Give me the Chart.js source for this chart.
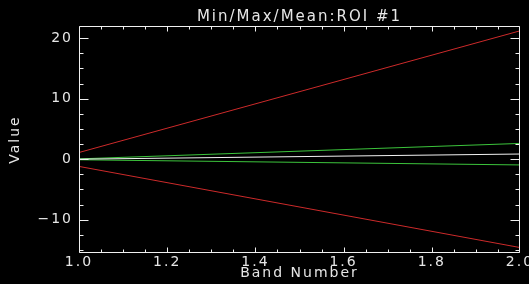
<!DOCTYPE html>
<html>
<head>
<meta charset="utf-8">
<script src="https://cdn.jsdelivr.net/npm/chart.js@4/dist/chart.umd.min.js"></script>
<style>
  html, body { margin: 0; padding: 0; background: #000; overflow: hidden; }
  #wrap { width: 529px; height: 284px; position: relative; }
  canvas { display: block; }
</style>
</head>
<body>
<div id="wrap"><canvas id="c" width="529" height="284"></canvas></div>
<script>
// ---- data ----
const bands        = [1.0, 2.0];
const maxValues    = [1.1, 21.2];
const minValues    = [-1.2, -14.6];
const meanValues   = [0.0, 0.85];
const meanPlusSd   = [0.05, 2.6];
const meanMinusSd  = [-0.1, -0.95];
const xTickValues  = [1.0, 1.2, 1.4, 1.6, 1.8, 2.0];
const yTickValues  = [-10, 0, 10, 20];
const xRange       = [1.0, 2.0];
const yRange       = [-15.5, 22];
const titleText    = 'Min/Max/Mean:ROI #1';
const xTitleText   = 'Band Number';
const yTitleText   = 'Value';

const TEXT = '#e6e6e6';
const FONT = 'DejaVu Sans';
Chart.defaults.font.family = FONT;

function pts(ys) { return bands.map((b, i) => ({ x: b, y: ys[i] })); }

const bgPlugin = {
  id: 'bg',
  beforeDraw(chart) {
    const ctx = chart.ctx;
    ctx.save();
    ctx.fillStyle = '#000';
    ctx.fillRect(0, 0, chart.width, chart.height);
    ctx.restore();
    if ('letterSpacing' in ctx) ctx.letterSpacing = '2px';
  }
};

const framePlugin = {
  id: 'frameTicks',
  afterDatasetsDraw(chart) {
    const { ctx, chartArea: a, scales: { x, y } } = chart;
    const L = Math.round(a.left) + 0.5, R = Math.round(a.right) - 0.5;
    const T = Math.round(a.top) + 0.5, B = Math.round(a.bottom) - 0.5;
    ctx.save();
    ctx.strokeStyle = '#f0f0f0';
    ctx.lineWidth = 1;
    ctx.beginPath();
    ctx.rect(L, T, R - L, B - T);
    // x ticks (minor every 0.05, major every 0.2), inward on bottom and top
    const xMinor = 0.05;
    const nx = Math.round((x.max - x.min) / xMinor);
    for (let i = 0; i <= nx; i++) {
      const v = x.min + i * xMinor;
      let px = Math.round(x.getPixelForValue(v)) + 0.5;
      px = Math.min(Math.max(px, L), R);
      const len = (i % 4 === 0) ? 5 : 3;
      ctx.moveTo(px, B); ctx.lineTo(px, B - len);
      ctx.moveTo(px, T); ctx.lineTo(px, T + len);
    }
    // y ticks (minor every 2.5, major every 10), inward on left and right
    const yMinor = 2.5;
    const y0 = Math.ceil(y.min / yMinor), y1 = Math.floor(y.max / yMinor);
    for (let k = y0; k <= y1; k++) {
      const v = k * yMinor;
      const py = Math.round(y.getPixelForValue(v)) + 0.5;
      const len = (k % 4 === 0) ? 9 : 4;
      ctx.moveTo(L, py); ctx.lineTo(L + len, py);
      ctx.moveTo(R, py); ctx.lineTo(R - len, py);
    }
    ctx.stroke();
    ctx.restore();
  }
};

new Chart(document.getElementById('c'), {
  type: 'line',
  data: {
    datasets: [
      { label: 'Mean', data: pts(meanValues), borderColor: '#f2f2f2' },
      { label: 'Mean+Stdev', data: pts(meanPlusSd), borderColor: '#3cc43c' },
      { label: 'Mean-Stdev', data: pts(meanMinusSd), borderColor: '#3cc43c' },
      { label: 'Max', data: pts(maxValues), borderColor: '#cc2a2a' },
      { label: 'Min', data: pts(minValues), borderColor: '#cc2a2a' }
    ].map(d => Object.assign(d, { borderWidth: 1, pointRadius: 0, fill: false, tension: 0 }))
  },
  options: {
    responsive: false,
    devicePixelRatio: 1,
    animation: false,
    layout: { padding: { left: 0, right: 9, top: 0, bottom: 0 } },
    plugins: {
      legend: { display: false },
      tooltip: { enabled: false },
      title: {
        display: true, text: titleText, color: TEXT, fullSize: false,
        font: { family: FONT, size: 15, weight: 'normal' },
        padding: { top: 8, bottom: 0 }
      }
    },
    scales: {
      x: {
        type: 'linear', min: xRange[0], max: xRange[1],
        afterBuildTicks: s => { s.ticks = xTickValues.map(v => ({ value: v })); },
        afterFit: s => { s.height = 31; s.paddingLeft = 0; s.paddingRight = 0; },
        grid: { display: false, drawTicks: false },
        border: { display: false },
        ticks: {
          color: TEXT, font: { family: FONT, size: 14 }, padding: 1,
          maxRotation: 0, autoSkip: false,
          callback: v => Number(v).toFixed(1)
        },
        title: {
          display: true, text: xTitleText, color: TEXT,
          font: { family: FONT, size: 14 }, padding: { top: 0, bottom: 2 }
        }
      },
      y: {
        type: 'linear', min: yRange[0], max: yRange[1],
        afterBuildTicks: s => { s.ticks = yTickValues.map(v => ({ value: v })); },
        afterFit: s => { s.width = 79; },
        grid: { display: false, drawTicks: false },
        border: { display: false },
        ticks: {
          color: TEXT, font: { family: FONT, size: 14 }, padding: 6,
          callback: v => (v < 0 ? '\u2212' + Math.abs(v) : String(v))
        },
        title: {
          display: true, text: yTitleText, color: TEXT,
          font: { family: FONT, size: 14 }, padding: { top: 7, bottom: 0 }
        }
      }
    }
  },
  plugins: [bgPlugin, framePlugin]
});
</script>
</body>
</html>
